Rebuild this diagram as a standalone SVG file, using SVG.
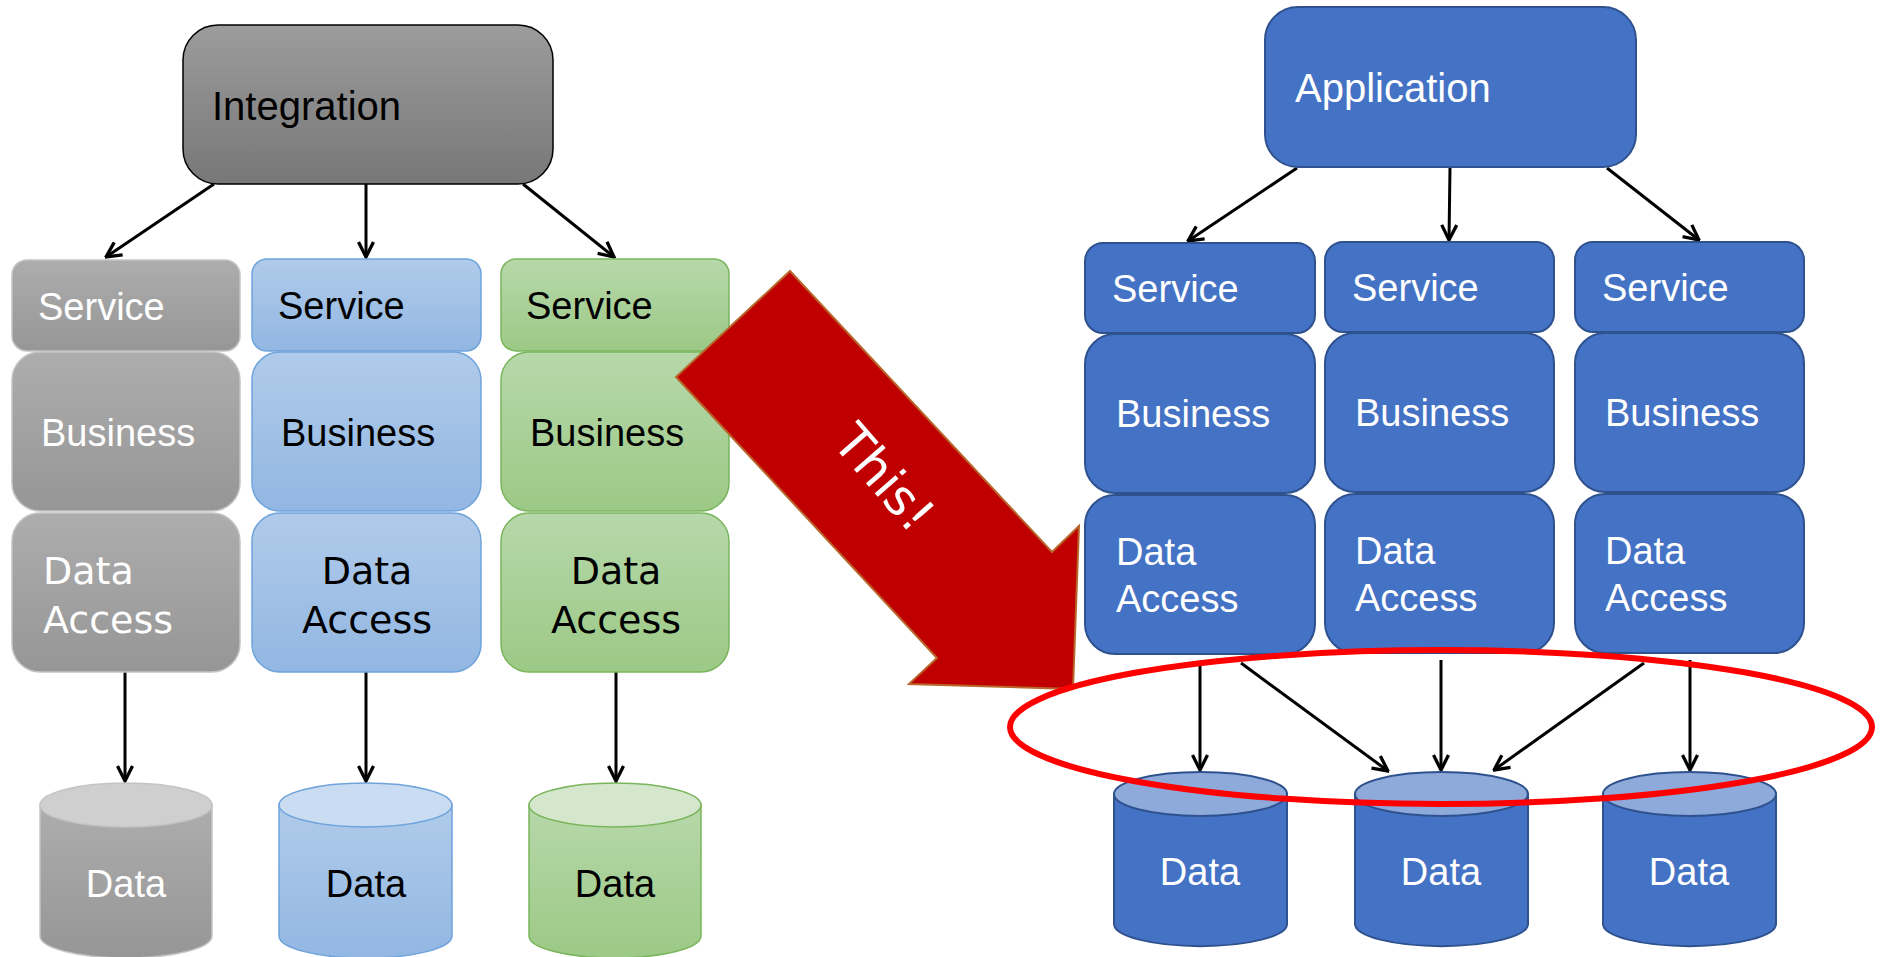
<svg xmlns="http://www.w3.org/2000/svg" width="1889" height="957" viewBox="0 0 1889 957">
<style>
.t{font-family:"Liberation Sans",Arial,sans-serif;font-size:38px}
.c{font-family:"Comic Sans MS","DejaVu Sans",sans-serif;font-size:38px}
.w{fill:#fff}
.k{fill:#000}
.g{fill:url(#gg);stroke:#c4c4c4;stroke-width:1.5}
.b{fill:url(#gb);stroke:#6fa3dc;stroke-width:1.5}
.n{fill:url(#gn);stroke:#7ab55c;stroke-width:1.5}
.r{fill:#4472c4;stroke:#2f528f;stroke-width:2}
.con{stroke:#000;stroke-width:3;fill:none;marker-end:url(#ah)}
</style>
<defs>
<linearGradient id="gi" x1="0" y1="0" x2="0" y2="1"><stop offset="0" stop-color="#9c9c9c"/><stop offset="1" stop-color="#777"/></linearGradient>
<linearGradient id="gg" x1="0" y1="0" x2="0" y2="1"><stop offset="0" stop-color="#adadad"/><stop offset="1" stop-color="#969696"/></linearGradient>
<linearGradient id="gb" x1="0" y1="0" x2="0" y2="1"><stop offset="0" stop-color="#b0cbea"/><stop offset="1" stop-color="#92b7e2"/></linearGradient>
<linearGradient id="gn" x1="0" y1="0" x2="0" y2="1"><stop offset="0" stop-color="#b7d8aa"/><stop offset="1" stop-color="#9cc986"/></linearGradient>
<marker id="ah" viewBox="0 0 12 12" refX="11" refY="6" markerWidth="18" markerHeight="18" markerUnits="userSpaceOnUse" orient="auto">
<path d="M1,1 L11,6 L1,11" fill="none" stroke="#000" stroke-width="2.2"/>
</marker>
</defs>
<rect width="1889" height="957" fill="#fff"/>

<g id="connectors">
<line class="con" x1="214" y1="184" x2="106" y2="257"/>
<line class="con" x1="366" y1="184" x2="366" y2="257"/>
<line class="con" x1="523" y1="184" x2="614" y2="257"/>
<line class="con" x1="125" y1="672" x2="125" y2="781"/>
<line class="con" x1="366" y1="672" x2="366" y2="781"/>
<line class="con" x1="616" y1="672" x2="616" y2="781"/>
<line class="con" x1="1297" y1="168" x2="1188" y2="241"/>
<line class="con" x1="1450" y1="168" x2="1449" y2="240"/>
<line class="con" x1="1607" y1="168" x2="1699" y2="240"/>
<line class="con" x1="1200" y1="663" x2="1200" y2="770"/>
<line class="con" x1="1241" y1="663" x2="1388" y2="771"/>
<line class="con" x1="1441" y1="660" x2="1441" y2="770"/>
<line class="con" x1="1644" y1="663" x2="1494" y2="770"/>
<line class="con" x1="1690" y1="660" x2="1690" y2="770"/>
</g>

<g id="integration">
<rect x="183" y="25" width="370" height="159" rx="35" fill="url(#gi)" stroke="#000" stroke-width="1.5"/>
<text class="t k" x="212" y="120" style="font-size:40px">Integration</text>
</g>

<g id="gray-service"><rect class="g" x="12" y="260" width="228" height="91" rx="15"/><text class="t w" x="38" y="320">Service</text></g>
<g id="gray-business"><rect class="g" x="12" y="352" width="228" height="159" rx="28"/><text class="t w" x="41" y="446">Business</text></g>
<g id="gray-da"><rect class="g" x="12" y="513" width="228" height="159" rx="28"/><text class="c w" x="43" y="584">Data</text><text class="c w" x="43" y="633">Access</text></g>

<g id="blue-service"><rect class="b" x="252" y="259" width="229" height="92" rx="15"/><text class="t k" x="278" y="319">Service</text></g>
<g id="blue-business"><rect class="b" x="252" y="352" width="229" height="159" rx="28"/><text class="t k" x="281" y="446">Business</text></g>
<g id="blue-da"><rect class="b" x="252" y="513" width="229" height="159" rx="28"/><text class="c k" x="367" y="584" text-anchor="middle">Data</text><text class="c k" x="367" y="633" text-anchor="middle">Access</text></g>

<g id="green-service"><rect class="n" x="501" y="259" width="228" height="92" rx="15"/><text class="t k" x="526" y="319">Service</text></g>
<g id="green-business"><rect class="n" x="501" y="352" width="228" height="159" rx="28"/><text class="t k" x="530" y="446">Business</text></g>
<g id="green-da"><rect class="n" x="501" y="513" width="228" height="159" rx="28"/><text class="c k" x="616" y="584" text-anchor="middle">Data</text><text class="c k" x="616" y="633" text-anchor="middle">Access</text></g>

<g id="gray-data">
<path d="M40,805 L40,936 A86,22 0 0 0 212,936 L212,805 Z" fill="url(#gg)" stroke="#c4c4c4" stroke-width="1.5"/>
<ellipse cx="126" cy="805" rx="86" ry="22" fill="#cfcfcf" stroke="#c4c4c4" stroke-width="1.5"/>
<text class="t w" x="126" y="897" text-anchor="middle">Data</text>
</g>
<g id="blue-data">
<path d="M279,805 L279,936 A86,22 0 0 0 452,936 L452,805 Z" fill="url(#gb)" stroke="#6fa3dc" stroke-width="1.5"/>
<ellipse cx="365.5" cy="805" rx="86.5" ry="22" fill="#c9dcf1" stroke="#6fa3dc" stroke-width="1.5"/>
<text class="t k" x="366" y="897" text-anchor="middle">Data</text>
</g>
<g id="green-data">
<path d="M529,805 L529,936 A86,22 0 0 0 701,936 L701,805 Z" fill="url(#gn)" stroke="#7ab55c" stroke-width="1.5"/>
<ellipse cx="615" cy="805" rx="86" ry="22" fill="#d4e7cc" stroke="#7ab55c" stroke-width="1.5"/>
<text class="t k" x="615" y="897" text-anchor="middle">Data</text>
</g>

<g id="this-arrow">
<polygon points="790,271 1052,552 1079,526 1073,689 909,684 937,658 676,377" fill="#c00000" stroke="#b8652a" stroke-width="2"/>
<text class="c w" transform="translate(871,489) rotate(49)" text-anchor="middle" style="font-size:50px">This!</text>
</g>

<g id="application">
<rect class="r" x="1265" y="7" width="371" height="160" rx="33"/>
<text class="t w" x="1295" y="102" style="font-size:40px">Application</text>
</g>

<g id="r1-service"><rect class="r" x="1085" y="243" width="230" height="90" rx="18"/><text class="t w" x="1112" y="302">Service</text></g>
<g id="r1-business"><rect class="r" x="1085" y="334" width="230" height="159" rx="30"/><text class="t w" x="1116" y="427">Business</text></g>
<g id="r1-da"><rect class="r" x="1085" y="495" width="230" height="159" rx="30"/><text class="t w" x="1116" y="565">Data</text><text class="t w" x="1116" y="612">Access</text></g>

<g id="r2-service"><rect class="r" x="1325" y="242" width="229" height="90" rx="18"/><text class="t w" x="1352" y="301">Service</text></g>
<g id="r2-business"><rect class="r" x="1325" y="333" width="229" height="159" rx="30"/><text class="t w" x="1355" y="426">Business</text></g>
<g id="r2-da"><rect class="r" x="1325" y="494" width="229" height="159" rx="30"/><text class="t w" x="1355" y="564">Data</text><text class="t w" x="1355" y="611">Access</text></g>

<g id="r3-service"><rect class="r" x="1575" y="242" width="229" height="90" rx="18"/><text class="t w" x="1602" y="301">Service</text></g>
<g id="r3-business"><rect class="r" x="1575" y="333" width="229" height="159" rx="30"/><text class="t w" x="1605" y="426">Business</text></g>
<g id="r3-da"><rect class="r" x="1575" y="494" width="229" height="159" rx="30"/><text class="t w" x="1605" y="564">Data</text><text class="t w" x="1605" y="611">Access</text></g>

<g id="r1-data">
<path class="r" d="M1114,794 L1114,924 A86,22 0 0 0 1287,924 L1287,794 Z"/>
<ellipse cx="1200.5" cy="794" rx="86.5" ry="22" fill="#8eaadb" stroke="#2f528f" stroke-width="2"/>
<text class="t w" x="1200" y="885" text-anchor="middle">Data</text>
</g>
<g id="r2-data">
<path class="r" d="M1355,794 L1355,924 A86,22 0 0 0 1528,924 L1528,794 Z"/>
<ellipse cx="1441.5" cy="794" rx="86.5" ry="22" fill="#8eaadb" stroke="#2f528f" stroke-width="2"/>
<text class="t w" x="1441" y="885" text-anchor="middle">Data</text>
</g>
<g id="r3-data">
<path class="r" d="M1603,794 L1603,924 A86,22 0 0 0 1776,924 L1776,794 Z"/>
<ellipse cx="1689.5" cy="794" rx="86.5" ry="22" fill="#8eaadb" stroke="#2f528f" stroke-width="2"/>
<text class="t w" x="1689" y="885" text-anchor="middle">Data</text>
</g>

<ellipse id="highlight" cx="1441" cy="727" rx="431" ry="77" fill="none" stroke="#ff0000" stroke-width="6"/>
</svg>
